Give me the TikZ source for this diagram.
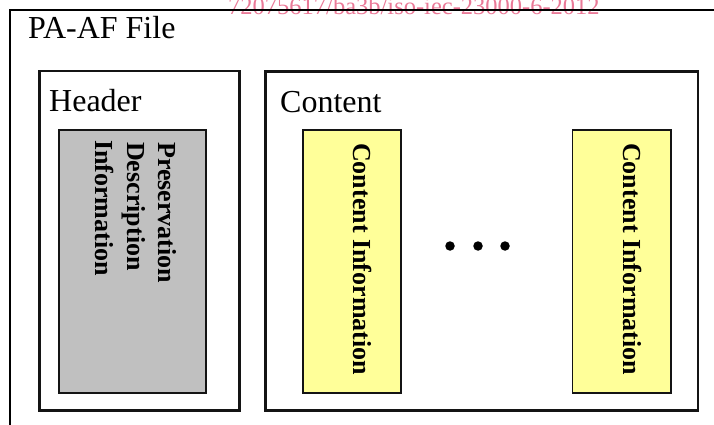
\documentclass[tikz,border=0pt]{standalone}
\usepackage{fontspec}
\setmainfont{Liberation Serif}
\definecolor{wmark}{RGB}{234,122,152}
\definecolor{pdigray}{RGB}{192,192,192}
\definecolor{ciyellow}{RGB}{255,255,153}
\definecolor{edge}{RGB}{20,20,20}
\begin{document}
\begin{tikzpicture}[x=1pt,y=-1pt,
  frame/.style={draw=black, line width=2.4pt, inner sep=0pt, outer sep=0pt},
  partbox/.style={draw=edge, line width=2.1pt, inner sep=0pt, outer sep=0pt},
  infobox/.style={draw=edge, line width=1.7pt, inner sep=0pt, outer sep=0pt},
  title/.style={font=\fontsize{32}{38}\selectfont, inner sep=0pt, anchor=base west},
  vlabel/.style={font=\bfseries\fontsize{26}{31}\selectfont, inner sep=0pt,
                 anchor=base west, rotate=-90},
  dot/.style={circle, fill=black, inner sep=0pt, minimum size=9.5pt},
  stamp/.style={font=\fontsize{24.5}{28}\selectfont, text=wmark, inner sep=0pt, anchor=base west}
]
\useasboundingbox (0,0) rectangle (714,425);
\clip (0,0) rectangle (714,425);

% document identifier printed along the top edge
\node[stamp] (stamp) at (228,15) {72075617/ba3b/iso-iec-23000-6-2012};

% the whole file (continues past the right and bottom edges)
\node[frame, minimum width=760pt, minimum height=460pt, anchor=north west] (file) at (10,10) {};
\node[title] (filelabel) at (28,39) {PA-AF File};

% header part
\node[partbox, minimum width=200pt, minimum height=339.5pt] (header) at (139.5,240.75) {};
\node[title] (headerlabel) at (49,112) {Header};
\node[infobox, fill=pdigray, minimum width=147pt, minimum height=263pt] (pdi) at (132.5,261.5) {};
\node[vlabel] (pdi1) at (158,142) {Preservation};
\node[vlabel] (pdi2) at (127,142) {Description};
\node[vlabel] (pdi3) at (95,140) {Information};

% content part
\node[partbox, minimum width=432.5pt, minimum height=339pt] (content) at (481.75,241) {};
\node[title] (contentlabel) at (280,113) {Content};
\node[infobox, fill=ciyellow, minimum width=98pt, minimum height=263pt] (ci1) at (352,261.5) {};
\node[vlabel] (ci1label) at (353,143) {Content Information};
\node[infobox, fill=ciyellow, minimum width=98.5pt, minimum height=263pt] (ci2) at (621.75,261.5) {};
\node[vlabel] (ci2label) at (623,143) {Content Information};

% ellipsis between the content items
\node[dot] (dot1) at (450,246) {};
\node[dot] (dot2) at (478,246) {};
\node[dot] (dot3) at (505,246) {};
\end{tikzpicture}
\end{document}
